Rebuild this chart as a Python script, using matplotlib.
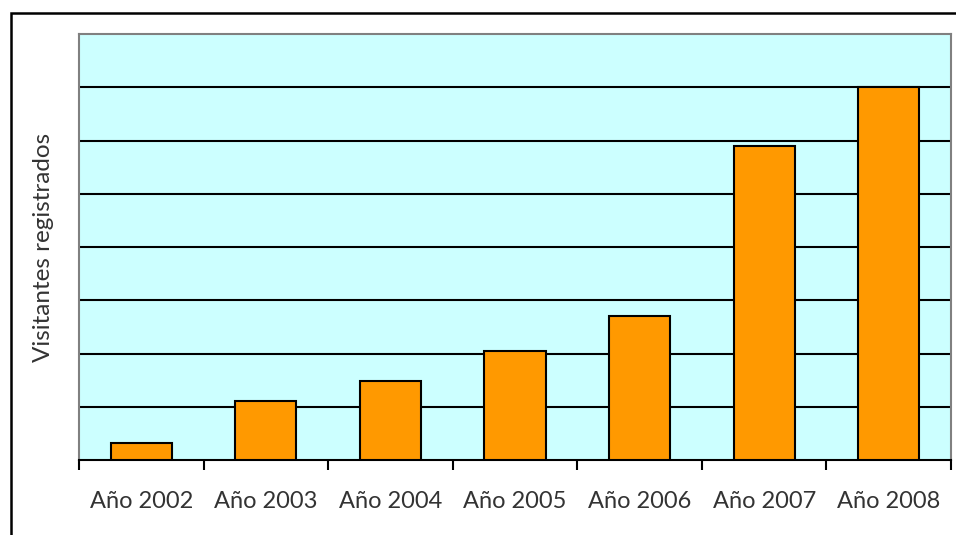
import matplotlib.pyplot as plt
import matplotlib.patches as patches
import numpy as np

years = ["Año 2002", "Año 2003", "Año 2004", "Año 2005", "Año 2006", "Año 2007", "Año 2008"]
visitors = [0.32, 1.11, 1.48, 2.05, 2.70, 5.90, 7.0]

plt.rcParams['font.family'] = ['Lato', 'DejaVu Sans']

fig = plt.figure(figsize=(9.56, 5.35), dpi=100)
ax = fig.add_axes([79 / 956, 75 / 535, 872 / 956, 426 / 535])
ax.set_facecolor('#CCFFFF')

x = np.arange(len(years))
ax.bar(x, visitors, width=0.49, color='#FF9900', edgecolor='black', linewidth=1.5, zorder=3)

ax.set_xlim(-0.5, len(years) - 0.5)
ax.set_ylim(0, 8)
ax.set_yticks(range(1, 8))
ax.yaxis.grid(True, color='black', linewidth=1.5, zorder=1)
ax.set_axisbelow(True)
ax.tick_params(axis='y', left=False, labelleft=False)

ax.set_xticks(np.arange(-0.5, len(years), 1.0))
ax.set_xticklabels([])
ax.set_xticks(x, minor=True)
ax.set_xticklabels(years, minor=True, fontsize=17, color='#333333')
ax.tick_params(axis='x', which='major', length=7, width=1.5, direction='out', color='black')
ax.tick_params(axis='x', which='minor', length=0, pad=22)

for side in ['top', 'right', 'left']:
    ax.spines[side].set_color('#808080')
    ax.spines[side].set_linewidth(1.5)
ax.spines['bottom'].set_color('black')
ax.spines['bottom'].set_linewidth(1.5)

ax.set_ylabel("Visitantes registrados", fontsize=17.5, color='#333333', labelpad=18)

# chart frame
frame = patches.Rectangle((11 / 956, -0.1), 1.2, (535 - 13) / 535 + 0.1, transform=fig.transFigure,
                          fill=False, edgecolor='black', linewidth=1.8, clip_on=False)
fig.patches.append(frame)

plt.savefig("out.png", dpi=100)
plt.close()
